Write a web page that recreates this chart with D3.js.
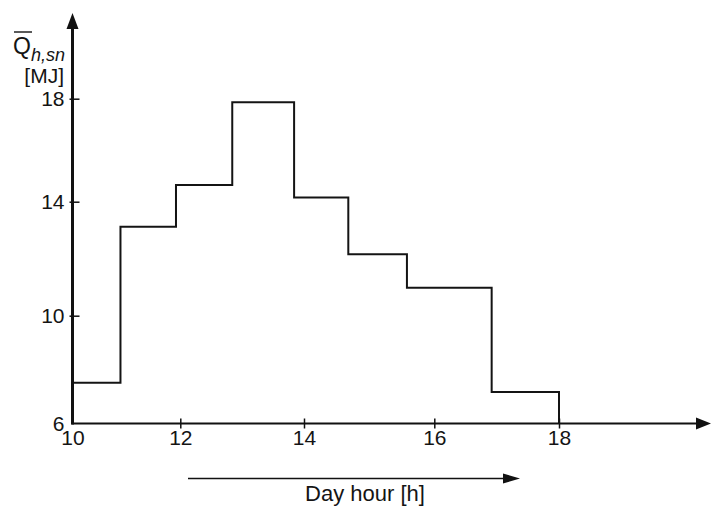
<!DOCTYPE html>
<html>
<head>
    <title>Hourly heat gain step chart</title>
    <script src="https://d3js.org/d3.v7.min.js"></script>
    <style>
        body { margin: 0; background: #fff; }
        svg text {
            font-family: "Liberation Sans", Arial, Helvetica, sans-serif;
            fill: #141414;
        }
        .step { fill: none; stroke: #141414; stroke-width: 2px; }
        .axis-line { stroke: #111; }
    </style>
</head>
<body>
    <svg width="711" height="506"></svg>

    <script>
        // values
        const hourEdges = [10, 10.89, 11.92, 12.84, 13.84, 14.68, 15.58, 16.92, 18];
        const heatValues = [7.51, 13.12, 14.65, 17.86, 14.16, 12.16, 10.98, 7.17];
        const xTicks = [10, 12, 14, 16, 18];
        const yTicks = [6, 10, 14, 18];

        const svg = d3.select("svg");

        // the printed axes are not evenly spaced, so the scales are piecewise
        const x = d3.scaleLinear()
            .domain(xTicks)
            .range([72.5, 180.3, 304, 434.3, 559]);

        const y = d3.scaleLinear()
            .domain(yTicks)
            .range([423.5, 315.7, 201.7, 98.7]);

        // step outline
        const pts = [];
        heatValues.forEach((v, i) => {
            pts.push([hourEdges[i], v]);
            pts.push([hourEdges[i + 1], v]);
        });
        pts.push([hourEdges[hourEdges.length - 1], yTicks[0]]);

        const line = d3.line()
            .x(d => x(d[0]))
            .y(d => y(d[1]));

        svg.append("path")
            .attr("class", "step")
            .attr("d", line(pts));

        // x axis labels + ticks
        const xAxis = svg.append("g")
            .attr("transform", `translate(0,${y(6)})`)
            .call(d3.axisBottom(x).tickValues(xTicks).tickSize(0).tickPadding(7).tickFormat(d3.format("d")));
        xAxis.select(".domain").remove();
        xAxis.selectAll("text").style("font-size", "21px").attr("fill", "#141414");
        xAxis.selectAll(".tick line")
            .attr("y1", -5).attr("y2", 5)
            .attr("stroke", "#111").attr("stroke-width", 1.5);
        xAxis.selectAll(".tick").filter(d => d === 10).select("line").remove();

        // y axis labels + ticks
        const yAxis = svg.append("g")
            .attr("transform", `translate(${x(10)},0)`)
            .call(d3.axisLeft(y).tickValues(yTicks).tickSize(0).tickPadding(8).tickFormat(d3.format("d")));
        yAxis.select(".domain").remove();
        yAxis.selectAll("text").style("font-size", "21px").attr("fill", "#141414");
        yAxis.selectAll(".tick line")
            .attr("x1", -3).attr("x2", 7)
            .attr("stroke", "#111").attr("stroke-width", 1.5);
        yAxis.selectAll(".tick").filter(d => d === 6).select("line").remove();

        // axis lines with arrow heads
        const x0 = x(10), y0 = y(6);
        svg.append("line").attr("class", "axis-line")
            .attr("x1", x0 - 1).attr("x2", 698)
            .attr("y1", y0).attr("y2", y0)
            .attr("stroke-width", 2.2);
        svg.append("path")
            .attr("d", `M711,${y0} L696,${y0 - 6} L696,${y0 + 6} Z`)
            .attr("fill", "#111");

        svg.append("line").attr("class", "axis-line")
            .attr("x1", x0).attr("x2", x0)
            .attr("y1", y0 + 1).attr("y2", 26)
            .attr("stroke-width", 3);
        svg.append("path")
            .attr("d", `M${x0},13 L${x0 - 6},29 L${x0 + 6},29 Z`)
            .attr("fill", "#111");

        // y title: Q bar h,sn [MJ]
        const qt = svg.append("text")
            .attr("x", 13).attr("y", 54)
            .style("font-size", "23px");
        qt.append("tspan").text("Q");
        qt.append("tspan")
            .attr("dy", 7)
            .style("font-size", "18px")
            .style("font-style", "italic")
            .text("h,sn");
        svg.append("line")
            .attr("x1", 14).attr("x2", 32)
            .attr("y1", 32).attr("y2", 32)
            .attr("stroke", "#141414").attr("stroke-width", 1.4);
        svg.append("text")
            .attr("x", 64).attr("y", 83)
            .attr("text-anchor", "end")
            .style("font-size", "21px")
            .text("[MJ]");

        // day hour arrow + caption
        svg.append("line")
            .attr("x1", 188).attr("x2", 506)
            .attr("y1", 478.5).attr("y2", 478.5)
            .attr("stroke", "#111").attr("stroke-width", 1.5);
        svg.append("path")
            .attr("d", "M520,478.5 L503,473.5 L503,483.5 Z")
            .attr("fill", "#111");
        svg.append("text")
            .attr("x", 365).attr("y", 501)
            .attr("text-anchor", "middle")
            .style("font-size", "22px")
            .text("Day hour [h]");
    </script>
</body>
</html>
